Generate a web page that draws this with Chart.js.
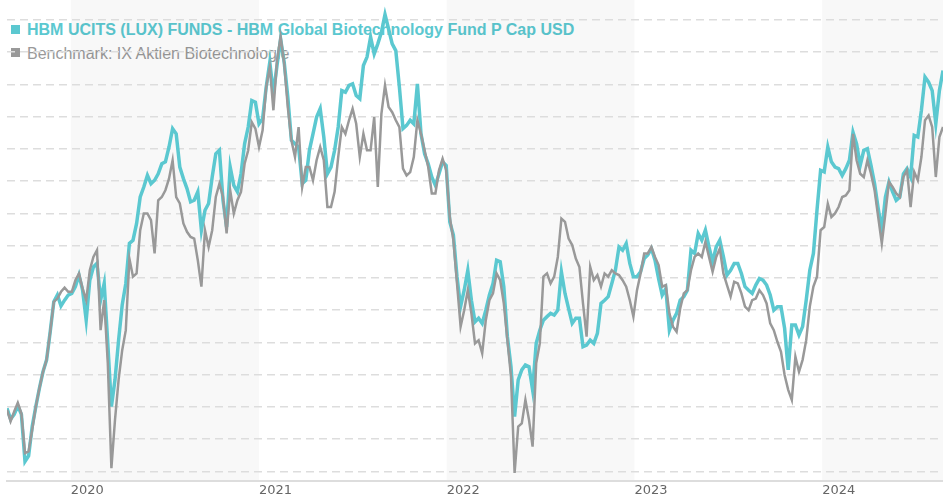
<!DOCTYPE html>
<html>
<head>
<meta charset="utf-8">
<title>HBM Global Biotechnology Fund</title>
<script src="https://cdn.jsdelivr.net/npm/chart.js@4.4.1/dist/chart.umd.min.js"></script>
<style>
  html, body { margin: 0; padding: 0; background: #fff; }
  #wrap { position: relative; width: 943px; height: 500px; }
  #chart { position: absolute; left: 0; top: 0; z-index: 1; }
  .lg { position: absolute; left: 27px; font-family: "Liberation Sans", Arial, sans-serif; font-size: 16px; line-height: 24px; white-space: nowrap; z-index: 0; }
  .sq { position: absolute; left: 11px; width: 9px; height: 9px; z-index: 0; }
</style>
</head>
<body>
<div id="wrap">
  <div class="sq" style="top:25px; background:#5bc8d0;"></div>
  <div class="lg" id="lg-fund" style="top:18px; color:#5bc8d0; font-weight:bold;"></div>
  <div class="sq" style="top:48px; background:#999;"></div>
  <div class="lg" id="lg-bench" style="top:41.5px; color:#999;"></div>
  <canvas id="chart" width="943" height="500"></canvas>
</div>
<script>
// 系列名
const fundName = "HBM UCITS (LUX) FUNDS - HBM Global Biotechnology Fund P Cap USD";
const benchName = "Benchmark: IX Aktien Biotechnologie";

// 週次データ（金曜日）: 2019-08-30 から 7日ごと
const startDate = "2019-08-30";
const stepDays = 7;

// 年ラベルと背景の網掛け年
const tickYears = [2020, 2021, 2022, 2023, 2024];
const tickLabels = ["2020", "2021", "2022", "2023", "2024"];
const shadedYears = [2020, 2022, 2024];

// 累積パフォーマンス (%)
const fund = [
  -0.4, -3.8, -2.3, 0.3, -2.3, -16.9, -15.2, -6.1, 0.1, 5.8,
  10.9, 14.6, 23.3, 32.6, 34.7, 31.3, 33.1, 34.7, 35.2, 37.3,
  40.9, 36.2, 26.9, 39.3, 43.4, 44.5, 33.1, 38.3, 19.7, 0.1,
  8.4, 20.7, 31.6, 38.3, 50.7, 51.7, 56.9, 65.1, 68.2, 71.8,
  69.2, 70.3, 72.3, 75.4, 76.0, 80.6, 86.3, 84.7, 74.4, 70.8,
  67.7, 63.6, 64.1, 66.7, 54.8, 61.0, 63.1, 71.3, 78.5, 79.6,
  64.1, 55.8, 74.4, 68.7, 66.7, 72.3, 81.6, 86.8, 95.0, 94.5,
  87.8, 89.4, 99.2, 106.9, 97.1, 105.9, 114.1, 106.9, 96.1, 82.7,
  81.6, 80.6, 69.2, 70.3, 79.6, 84.7,
  89.9, 92.5, 83.7, 72.3,
  74.4, 79.6, 86.8, 98.1, 97.6, 99.7, 100.2, 96.6, 95.6, 105.9,
  108.5, 114.7, 109.5, 112.6, 116.2, 121.7, 117.2, 112.6, 110.5, 99.2,
  86.3, 87.3, 88.9, 87.8, 100.2, 84.7, 78.5, 75.4, 71.3, 68.7,
  72.3, 76.0, 74.9, 57.4, 53.3, 40.4, 31.1, 36.2, 42.4, 33.1,
  26.4, 27.5, 25.9, 30.0, 34.7, 38.3, 45.5, 45.0, 37.3, 21.8,
  12.5, -3.0, 8.4, 11.5, 13.0, 12.5, 5.3, 19.7, 23.8, 26.9,
  28.0, 29.0, 28.5, 30.0, 41.9, 35.2, 30.5, 25.9, 27.5, 27.5,
  18.7, 19.2, 20.7, 19.7, 22.8, 32.1, 33.1, 34.2, 38.3, 42.4,
  49.6, 48.6, 50.7, 44.5,
  40.4, 40.4, 41.9, 46.0, 47.1, 49.1,
  45.5, 39.8, 34.7, 36.7, 23.8, 26.9, 29.0, 33.1, 34.2, 36.2,
  48.6, 47.6, 53.8, 51.7, 54.8, 49.6, 45.0, 49.6, 51.7, 46.6,
  40.9, 42.4, 44.5, 44.5, 41.4, 37.3, 36.2, 35.2, 37.8, 39.8,
  39.3, 37.8, 34.7, 30.0, 31.1, 31.1, 24.4, 11.5, 25.4, 25.4,
  22.3, 24.9, 33.1, 42.4, 47.6, 61.0, 73.4, 72.9, 80.6, 76.0,
  74.4, 73.9, 71.8, 73.9, 76.5, 85.2, 81.6, 74.9, 79.6, 80.1,
  74.9, 69.2, 61.5, 54.8, 65.1, 69.8, 66.7, 64.1, 65.1, 72.3,
  73.9, 71.3, 84.2, 83.7, 92.0, 102.3, 100.7, 98.1, 87.8, 98.1, 104.3
];

const bench = [
  -0.9, -4.5, -1.4, 1.3, -2.0, -14.3, -13.8, -7.1, 0.1, 5.8,
  10.9, 14.6, 23.3, 32.6, 33.6, 35.7, 37.0, 35.7, 35.7, 39.3,
  41.4, 36.7, 33.1, 42.4, 46.5, 48.6, 23.8, 33.1, 13.5, -19.0,
  -4.0, 8.4, 17.6, 23.8, 46.0, 40.4, 41.4, 54.8, 60.0, 60.0,
  57.9, 47.6, 64.1, 65.1, 67.2, 70.8, 76.5, 65.1, 63.1, 56.9,
  54.3, 52.7, 52.2, 45.5, 37.3, 54.8, 49.6, 54.8, 65.1, 69.2,
  65.1, 53.8, 67.2, 60.0, 64.1, 66.7, 75.4, 79.6, 88.3, 86.3,
  80.6, 85.8, 99.2, 105.4, 92.0, 107.4, 114.9, 106.4, 93.0, 82.7,
  77.5, 86.8, 68.2, 74.4, 74.4, 70.3,
  76.5, 80.6, 76.5, 62.0,
  62.0, 66.7, 77.5, 86.8, 84.7, 88.9, 92.5, 87.8, 77.5, 84.7,
  79.6, 79.6, 89.9, 68.2, 90.9, 99.7, 93.0, 91.4, 88.9, 86.8,
  73.9, 71.8, 72.8, 77.5, 88.9, 84.7, 79.6, 74.4, 66.2, 66.2,
  73.4, 77.0, 73.4, 58.9, 51.7, 38.3, 24.9, 30.0, 36.2, 29.0,
  19.7, 20.7, 16.6, 26.9, 33.1, 35.2, 41.4, 39.3, 32.1, 20.7,
  9.4, -20.5, -6.1, -5.1, 2.2, -4.0, -12.3, 13.5, 19.7, 40.4,
  41.4, 38.3, 40.4, 46.5, 58.4, 57.4, 52.2, 50.2, 46.0, 43.4,
  32.1, 21.8, 43.4, 39.3, 40.9, 37.3, 41.4, 40.4, 42.4, 41.4,
  40.9, 39.3, 37.3, 33.1,
  28.0, 36.2, 41.4, 47.6, 47.6, 49.6,
  46.5, 44.0, 37.3, 37.8, 29.0, 24.9, 23.3, 30.5, 35.2, 36.2,
  42.4, 46.5, 47.6, 46.5, 51.2, 46.5, 41.9, 46.5, 49.1, 41.4,
  37.8, 34.2, 38.8, 38.3, 35.2, 31.1, 30.0, 33.1, 33.6, 36.2,
  34.7, 32.1, 25.9, 23.8, 20.2, 17.1, 9.9, 5.3, 2.2, 15.6,
  10.9, 14.6, 20.7, 31.1, 37.3, 40.4, 54.8, 55.8, 63.0, 58.9,
  60.0, 62.0, 65.1, 65.6, 67.2, 84.7, 76.5, 72.3, 71.3, 76.5,
  72.3, 67.2, 58.9, 50.7, 60.0, 69.8, 68.2, 66.2, 65.1, 71.3,
  73.4, 62.0, 72.9, 70.3, 77.5, 88.9, 90.4, 86.8, 71.3, 83.7, 86.8
];

const DAY = 86400000;
const t0 = Date.parse(startDate + "T00:00:00Z");
const dates = fund.map((_, i) => t0 + i * stepDays * DAY);

function toPoints(values) {
  return values.map((v, i) => ({ x: dates[i], y: v }));
}

document.getElementById("lg-fund").textContent = fundName;
document.getElementById("lg-bench").textContent = benchName;

// 偶数年の背景を薄いグレーに
const yearBands = {
  id: "yearBands",
  beforeDraw(chart) {
    const { ctx, chartArea, scales } = chart;
    const x = scales.x;
    ctx.save();
    ctx.fillStyle = "rgba(0,0,0,0.028)";
    for (const y of shadedYears) {
      const a = Math.max(x.getPixelForValue(Date.UTC(y, 0, 1)), chartArea.left);
      const b = Math.min(x.getPixelForValue(Date.UTC(y + 1, 0, 1)), chartArea.right);
      if (b > a) ctx.fillRect(a, chartArea.top, b - a, chartArea.bottom - chartArea.top);
    }
    ctx.restore();
  }
};

new Chart(document.getElementById("chart"), {
  type: "line",
  data: {
    datasets: [
      {
        label: fundName,
        data: toPoints(fund),
        borderColor: "#5bc8d0",
        borderWidth: 3.5,
        pointRadius: 0,
        tension: 0,
        order: 2
      },
      {
        label: benchName,
        data: toPoints(bench),
        borderColor: "#999999",
        borderWidth: 2.5,
        pointRadius: 0,
        tension: 0,
        order: 1
      }
    ]
  },
  options: {
    responsive: false,
    animation: false,
    devicePixelRatio: 1,
    layout: { padding: { left: 7, right: 0, top: 0, bottom: 1 } },
    plugins: {
      legend: { display: false },
      tooltip: { enabled: false }
    },
    scales: {
      x: {
        type: "linear",
        min: dates[0],
        max: dates[dates.length - 1],
        afterBuildTicks: scale => {
          scale.ticks = tickYears.map(y => ({ value: Date.UTC(y, 0, 1) }));
        },
        grid: { display: false, drawTicks: false },
        border: { display: true, color: "#dddddd", width: 2 },
        ticks: {
          autoSkip: false,
          maxRotation: 0,
          align: "start",
          padding: 1,
          color: "#666666",
          font: { family: "'DejaVu Sans', Verdana, sans-serif", size: 13 },
          callback: (value, index) => tickLabels[index]
        }
      },
      y: {
        min: -23.1,
        max: 126.2,
        ticks: { display: false, stepSize: 10, includeBounds: false },
        grid: { color: "#dddddd", lineWidth: 1.5, drawTicks: false },
        border: { display: false, dash: [8, 5] }
      }
    }
  },
  plugins: [yearBands]
});
</script>
</body>
</html>
